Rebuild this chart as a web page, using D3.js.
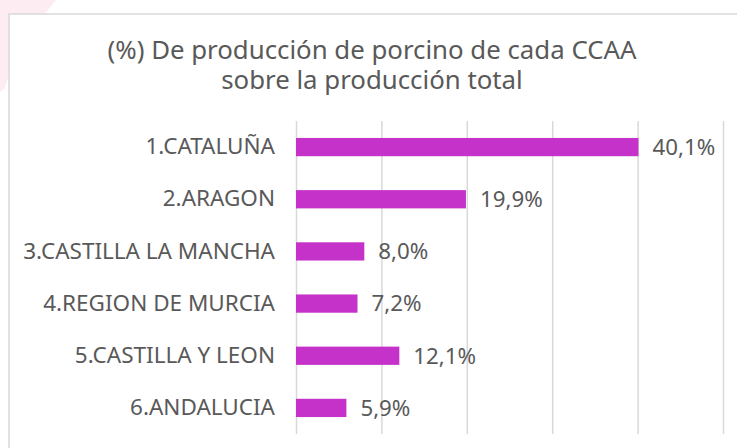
<!DOCTYPE html>
<html>
<head>
<meta charset="utf-8">
<script src="https://cdn.jsdelivr.net/npm/d3@7"></script>
<style>
  html, body { margin: 0; padding: 0; background: #ffffff; }
  svg { display: block; }
</style>
</head>
<body>
<svg id="chart" width="737" height="448"></svg>
<script>
const categories = ["1.CATALUÑA", "2.ARAGON", "3.CASTILLA LA MANCHA", "4.REGION DE MURCIA", "5.CASTILLA Y LEON", "6.ANDALUCIA"];
const values = [40.1, 19.9, 8.0, 7.2, 12.1, 5.9];
const valueLabels = ["40,1%", "19,9%", "8,0%", "7,2%", "12,1%", "5,9%"];
const gridTicks = [0, 10, 20, 30, 40, 50];
const titleLines = ["(%) De producción de porcino de cada CCAA", "sobre la producción total"];

const W = 737, H = 448;
const textColor = "#595959";
const barColor = "#c532c9";
const gridColor = "#d9d9d9";
const font = "'Noto Sans', 'Open Sans', sans-serif";

const svg = d3.select("#chart");

// faint pink decoration top-left
svg.append("path")
  .attr("d", "M0,0 L56,0 L52,5 L46,12 L38,22 L28,38 L18,56 L10,72 L5,88 L0,92 Z")
  .attr("fill", "#fdedf3");

// chart area border (left and top visible)
svg.append("rect")
  .attr("x", 9).attr("y", 14)
  .attr("width", W + 20).attr("height", H + 20)
  .attr("fill", "#ffffff")
  .attr("stroke", gridColor)
  .attr("stroke-width", 1.5);

// title
const title = svg.append("text")
  .attr("text-anchor", "middle")
  .attr("font-family", font)
  .attr("font-size", 25.8)
  .attr("fill", textColor);
titleLines.forEach((t, i) => {
  title.append("tspan").attr("x", 372).attr("y", 59 + i * 29.5).text(t);
});

const x = d3.scaleLinear().domain([0, 50]).range([296, 723]);
const y = d3.scaleBand().domain(categories).range([121, 434]).paddingInner(0.65).paddingOuter(0.325);

// gridlines
svg.append("g")
  .attr("transform", "translate(0,434)")
  .call(d3.axisBottom(x).tickValues(gridTicks).tickSize(-(434 - 121)).tickFormat(""))
  .call(g => g.select(".domain").remove())
  .call(g => g.selectAll(".tick line").attr("stroke", gridColor).attr("stroke-width", 1.5));

// category axis labels
svg.append("g")
  .attr("transform", "translate(296,0)")
  .call(d3.axisLeft(y).tickSize(0).tickPadding(21))
  .call(g => g.select(".domain").remove())
  .call(g => g.selectAll(".tick text")
    .attr("font-family", font)
    .attr("font-size", 22.5)
    .attr("fill", textColor));

// bars
svg.append("g").selectAll("rect")
  .data(values)
  .join("rect")
  .attr("x", x(0))
  .attr("y", (d, i) => y(categories[i]))
  .attr("width", d => x(d) - x(0))
  .attr("height", y.bandwidth())
  .attr("fill", barColor);

// value labels
svg.append("g").selectAll("text")
  .data(values)
  .join("text")
  .attr("x", d => x(d) + 14)
  .attr("y", (d, i) => y(categories[i]) + y.bandwidth() / 2)
  .attr("dy", "0.35em")
  .attr("font-family", font)
  .attr("font-size", 22.3)
  .attr("fill", textColor)
  .text((d, i) => valueLabels[i]);
</script>
</body>
</html>
